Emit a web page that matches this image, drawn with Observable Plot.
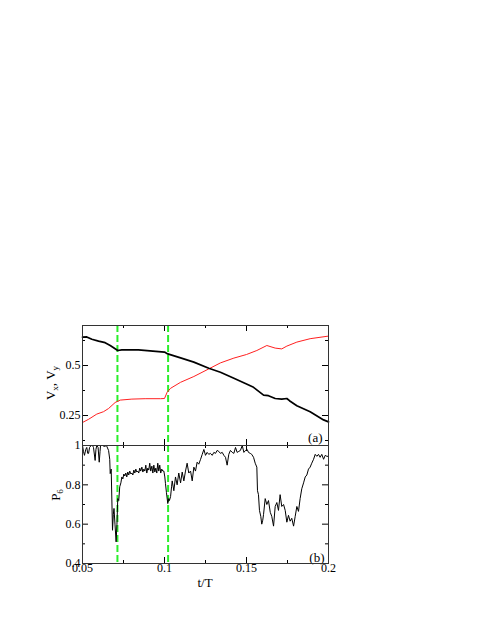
<!DOCTYPE html>
<html>
<head>
<meta charset="utf-8">
<script src="https://cdn.jsdelivr.net/npm/d3@7"></script>
<script src="https://cdn.jsdelivr.net/npm/@observablehq/plot@0.6"></script>
<style>
  html, body { margin: 0; padding: 0; background: #fff; }
  #wrap { position: relative; width: 485px; height: 627px; overflow: hidden; font-family: "Liberation Serif", serif; }
  #wrap svg { position: absolute; left: 0; top: 0; font-family: "Liberation Serif", serif !important; }
  #wrap svg text { font-family: "Liberation Serif", serif !important; }
</style>
</head>
<body>
<div id="wrap"></div>
<script>
// ---- data ----
const tVx = [0.05, 0.0526, 0.0557, 0.0598, 0.0638, 0.0669, 0.0715, 0.0740, 0.0841, 0.1, 0.102, 0.1098, 0.1179, 0.127, 0.1341, 0.1423, 0.15, 0.1543, 0.1604, 0.1634, 0.1675, 0.1715, 0.1746, 0.1762, 0.1807, 0.1888, 0.197, 0.2];
const vx = [0.642, 0.643, 0.631, 0.622, 0.614, 0.600, 0.575, 0.578, 0.578, 0.567, 0.558, 0.538, 0.517, 0.486, 0.466, 0.436, 0.407, 0.391, 0.352, 0.349, 0.335, 0.332, 0.335, 0.324, 0.299, 0.269, 0.228, 0.218];

const tVy = [0.05, 0.0537, 0.0587, 0.0628, 0.0659, 0.0699, 0.073, 0.0801, 0.0882, 0.0976, 0.1, 0.1016, 0.1037, 0.1098, 0.1179, 0.127, 0.1341, 0.1423, 0.15, 0.1563, 0.1624, 0.1675, 0.1715, 0.1746, 0.1807, 0.1888, 0.2];
const vy = [0.215, 0.231, 0.257, 0.269, 0.285, 0.315, 0.327, 0.332, 0.334, 0.334, 0.335, 0.366, 0.386, 0.416, 0.445, 0.483, 0.513, 0.537, 0.555, 0.575, 0.600, 0.587, 0.583, 0.597, 0.617, 0.634, 0.647];

const tP6 = [0.05, 0.0506, 0.0512, 0.0520, 0.0526, 0.0532, 0.0537, 0.0543, 0.0553, 0.0561, 0.0567, 0.0577, 0.0582, 0.0587, 0.0595, 0.0602, 0.0607, 0.0610, 0.0622, 0.0634, 0.0646, 0.0659, 0.0666, 0.0669, 0.0675, 0.0683, 0.0688, 0.0692, 0.0698, 0.0705, 0.0710, 0.0715, 0.0721, 0.0727, 0.0734, 0.0740,
  0.0746, 0.0752, 0.0758, 0.0764, 0.0770, 0.0776, 0.0782, 0.0788, 0.0795, 0.0801, 0.0807, 0.0813, 0.0819, 0.0825, 0.0831, 0.0837, 0.0843, 0.0849, 0.0855, 0.0862, 0.0868, 0.0874, 0.0880, 0.0886, 0.0892, 0.0898, 0.0904, 0.0910, 0.0916, 0.0923, 0.0929, 0.0935, 0.0941, 0.0947, 0.0953, 0.0959, 0.0965, 0.0971, 0.0977, 0.0983, 0.0990, 0.0996, 0.1002,
  0.1006, 0.1012, 0.1020, 0.1026, 0.1030, 0.1037, 0.1043, 0.1047, 0.1057, 0.1067, 0.1077, 0.1087, 0.1098, 0.1108, 0.1118, 0.1128, 0.1138, 0.1148, 0.1159, 0.1169, 0.1179, 0.1189, 0.1199, 0.1209, 0.1220, 0.1230, 0.1240, 0.1250, 0.1260, 0.1270, 0.1280, 0.1291, 0.1301, 0.1311, 0.1321, 0.1331, 0.1341, 0.1352, 0.1362, 0.1372, 0.1382, 0.1392, 0.1402, 0.1413, 0.1423, 0.1433, 0.1443, 0.1453, 0.1463, 0.1474, 0.1484, 0.1494, 0.1504,
  0.1512, 0.1523, 0.1532, 0.1543, 0.1553, 0.1563, 0.1567, 0.1573, 0.1579, 0.1587, 0.1593, 0.1599, 0.1604, 0.1614, 0.1624, 0.1634, 0.1645, 0.1654, 0.1665, 0.1675, 0.1685, 0.1695, 0.1705, 0.1715, 0.1726, 0.1736, 0.1746, 0.1756, 0.1766, 0.1776, 0.1787, 0.1797, 0.1807, 0.1817, 0.1827, 0.1837, 0.1848, 0.1858, 0.1868, 0.1878, 0.1888, 0.1898, 0.1909, 0.1919, 0.1929, 0.1939, 0.1949, 0.1959, 0.1970, 0.1980, 0.1990, 0.2];
const p6 = [1.0, 0.97, 0.95, 0.98, 0.99, 0.96, 0.96, 0.99, 1.0, 1.0, 0.99, 0.924, 0.98, 1.0, 0.99, 0.915, 0.97, 1.0, 1.0, 0.995, 1.0, 0.975, 0.93, 0.857, 0.88, 0.569, 0.65, 0.68, 0.6, 0.51, 0.6, 0.73, 0.72, 0.79, 0.81, 0.84,
  0.83, 0.855, 0.845, 0.86, 0.84, 0.865, 0.85, 0.87, 0.855, 0.86, 0.85, 0.875, 0.86, 0.88, 0.865, 0.87, 0.86, 0.885, 0.87, 0.89, 0.865, 0.88, 0.87, 0.9, 0.86, 0.885, 0.875, 0.91, 0.87, 0.895, 0.86, 0.9, 0.865, 0.885, 0.86, 0.91, 0.87, 0.9, 0.86, 0.88, 0.87, 0.87, 0.84,
  0.806, 0.76, 0.705, 0.73, 0.72, 0.74, 0.79, 0.82, 0.77, 0.84, 0.8, 0.86, 0.81, 0.865, 0.82, 0.87, 0.91, 0.86, 0.87, 0.82, 0.89, 0.87, 0.915, 0.905, 0.93, 0.955, 0.98, 0.95, 0.965, 0.955, 0.96, 0.95, 0.965, 0.96, 0.975, 0.97, 0.96, 0.965, 0.95, 0.94, 0.9, 0.955, 0.975, 0.965, 0.96, 0.99, 0.965, 0.97, 0.975, 1.0, 0.965, 0.975, 0.98,
  0.965, 0.96, 0.955, 0.94, 0.91, 0.89, 0.77, 0.75, 0.67, 0.64, 0.6, 0.62, 0.65, 0.73, 0.7, 0.72, 0.66, 0.64, 0.59, 0.69, 0.71, 0.67, 0.75, 0.69, 0.7, 0.67, 0.61, 0.645, 0.615, 0.63, 0.59, 0.64, 0.69, 0.665, 0.73, 0.78, 0.81, 0.84, 0.85, 0.88, 0.89, 0.91, 0.93, 0.955, 0.945, 0.955, 0.94, 0.955, 0.93, 0.95, 0.945, 0.945];

const markerT = [0.0713, 0.1022];
const xMajor = [0.05, 0.1, 0.15, 0.2];
const xMinor = [0.075, 0.125, 0.175];
const yTopMajor = [0.25, 0.5];
const yTopMinor = [0.125, 0.375, 0.625];
const yBotMajor = [0.4, 0.6, 0.8, 1];
const yBotMinor = [0.5, 0.7, 0.9];

const vxData = tVx.map((t, i) => ({t, v: vx[i]}));
const vyData = tVy.map((t, i) => ({t, v: vy[i]}));
const p6Data = tP6.map((t, i) => ({t, v: p6[i]}));

const W = 485, ML = 82, MR = 157;
const FW = W - ML - MR; // 246
const FF = "Liberation Serif";
const fontStyle = {fontFamily: FF, fontSize: "12px", background: "transparent", overflow: "visible", color: "black"};
const green = "#2bee2b";

function ticks(frameH, yMaj, yMin) {
  const maj = 6, mn = 3;
  return [
    Plot.tickX(xMajor, {x: d => d, insetTop: frameH - maj, stroke: "black"}),
    Plot.tickX(xMajor, {x: d => d, insetBottom: frameH - maj, stroke: "black"}),
    Plot.tickX(xMinor, {x: d => d, insetTop: frameH - mn, stroke: "black"}),
    Plot.tickX(xMinor, {x: d => d, insetBottom: frameH - mn, stroke: "black"}),
    Plot.tickY(yMaj, {y: d => d, insetRight: FW - maj, stroke: "black"}),
    Plot.tickY(yMaj, {y: d => d, insetLeft: FW - maj, stroke: "black"}),
    Plot.tickY(yMin, {y: d => d, insetRight: FW - mn, stroke: "black"}),
    Plot.tickY(yMin, {y: d => d, insetLeft: FW - mn, stroke: "black"})
  ];
}

// top panel (a)
const topPlot = Plot.plot({
  width: W, height: 445, marginTop: 325, marginBottom: 0, marginLeft: ML, marginRight: MR,
  style: fontStyle,
  x: {domain: [0.05, 0.2], axis: null},
  y: {domain: [0.1, 0.7], axis: null},
  marks: [
    Plot.ruleX(markerT, {x: d => d, stroke: green, strokeWidth: 2, strokeDasharray: "7,3"}),
    Plot.line(vyData, {x: "t", y: "v", stroke: "#ff2020", strokeWidth: 1}),
    Plot.line(vxData, {x: "t", y: "v", stroke: "black", strokeWidth: 1.7}),
    ...ticks(120, yTopMajor, yTopMinor),
    Plot.axisY(yTopMajor, {anchor: "left", tickSize: 0, tickPadding: 2, tickFormat: d => String(d), label: null, fontSize: 12, fontFamily: FF}),
    Plot.text(["(a)"], {frameAnchor: "bottom-right", dx: -6, dy: -4, fontSize: 13, fontFamily: FF, textAnchor: "end", lineAnchor: "bottom"}),
    Plot.frame({stroke: "#333"})
  ]
});

// bottom panel (b)
const botPlot = Plot.plot({
  width: W, height: 627, marginTop: 445, marginBottom: 64, marginLeft: ML, marginRight: MR,
  style: fontStyle,
  x: {domain: [0.05, 0.2], axis: null},
  y: {domain: [0.4, 1], axis: null},
  marks: [
    Plot.ruleX(markerT, {x: d => d, stroke: green, strokeWidth: 2, strokeDasharray: "7,3"}),
    Plot.line(p6Data, {x: "t", y: "v", stroke: "black", strokeWidth: 1}),
    ...ticks(118, yBotMajor, yBotMinor),
    Plot.axisY(yBotMajor, {anchor: "left", tickSize: 0, tickPadding: 2, tickFormat: d => String(d), label: null, fontSize: 12, fontFamily: FF}),
    Plot.axisX(xMajor, {anchor: "bottom", tickSize: 0, tickPadding: 0, tickFormat: d => String(d), label: null, fontSize: 12, fontFamily: FF}),
    Plot.text(["(b)"], {frameAnchor: "bottom-right", dx: -4, dy: -2, fontSize: 13, fontFamily: FF, textAnchor: "end", lineAnchor: "bottom"}),
    Plot.frame({stroke: "#333"})
  ]
});

const wrap = document.getElementById("wrap");
wrap.appendChild(topPlot);
wrap.appendChild(botPlot);

// axis titles
const ov = d3.select(wrap).append("svg").attr("width", W).attr("height", 627)
  .style("font-family", FF).style("overflow", "visible");
const t1 = ov.append("text").attr("transform", "translate(55,383) rotate(-90)").attr("text-anchor", "middle").attr("font-size", 13);
t1.append("tspan").text("V");
t1.append("tspan").attr("font-size", 9).attr("dy", 3).text("x");
t1.append("tspan").attr("dy", -3).text(", V");
t1.append("tspan").attr("font-size", 9).attr("dy", 3).text("y");
const t2 = ov.append("text").attr("transform", "translate(60,495) rotate(-90)").attr("text-anchor", "middle").attr("font-size", 13);
t2.append("tspan").text("P");
t2.append("tspan").attr("font-size", 9).attr("dy", 3).text("6");
ov.append("text").attr("x", 205).attr("y", 587).attr("text-anchor", "middle").attr("font-size", 13).text("t/T");
</script>
</body>
</html>
